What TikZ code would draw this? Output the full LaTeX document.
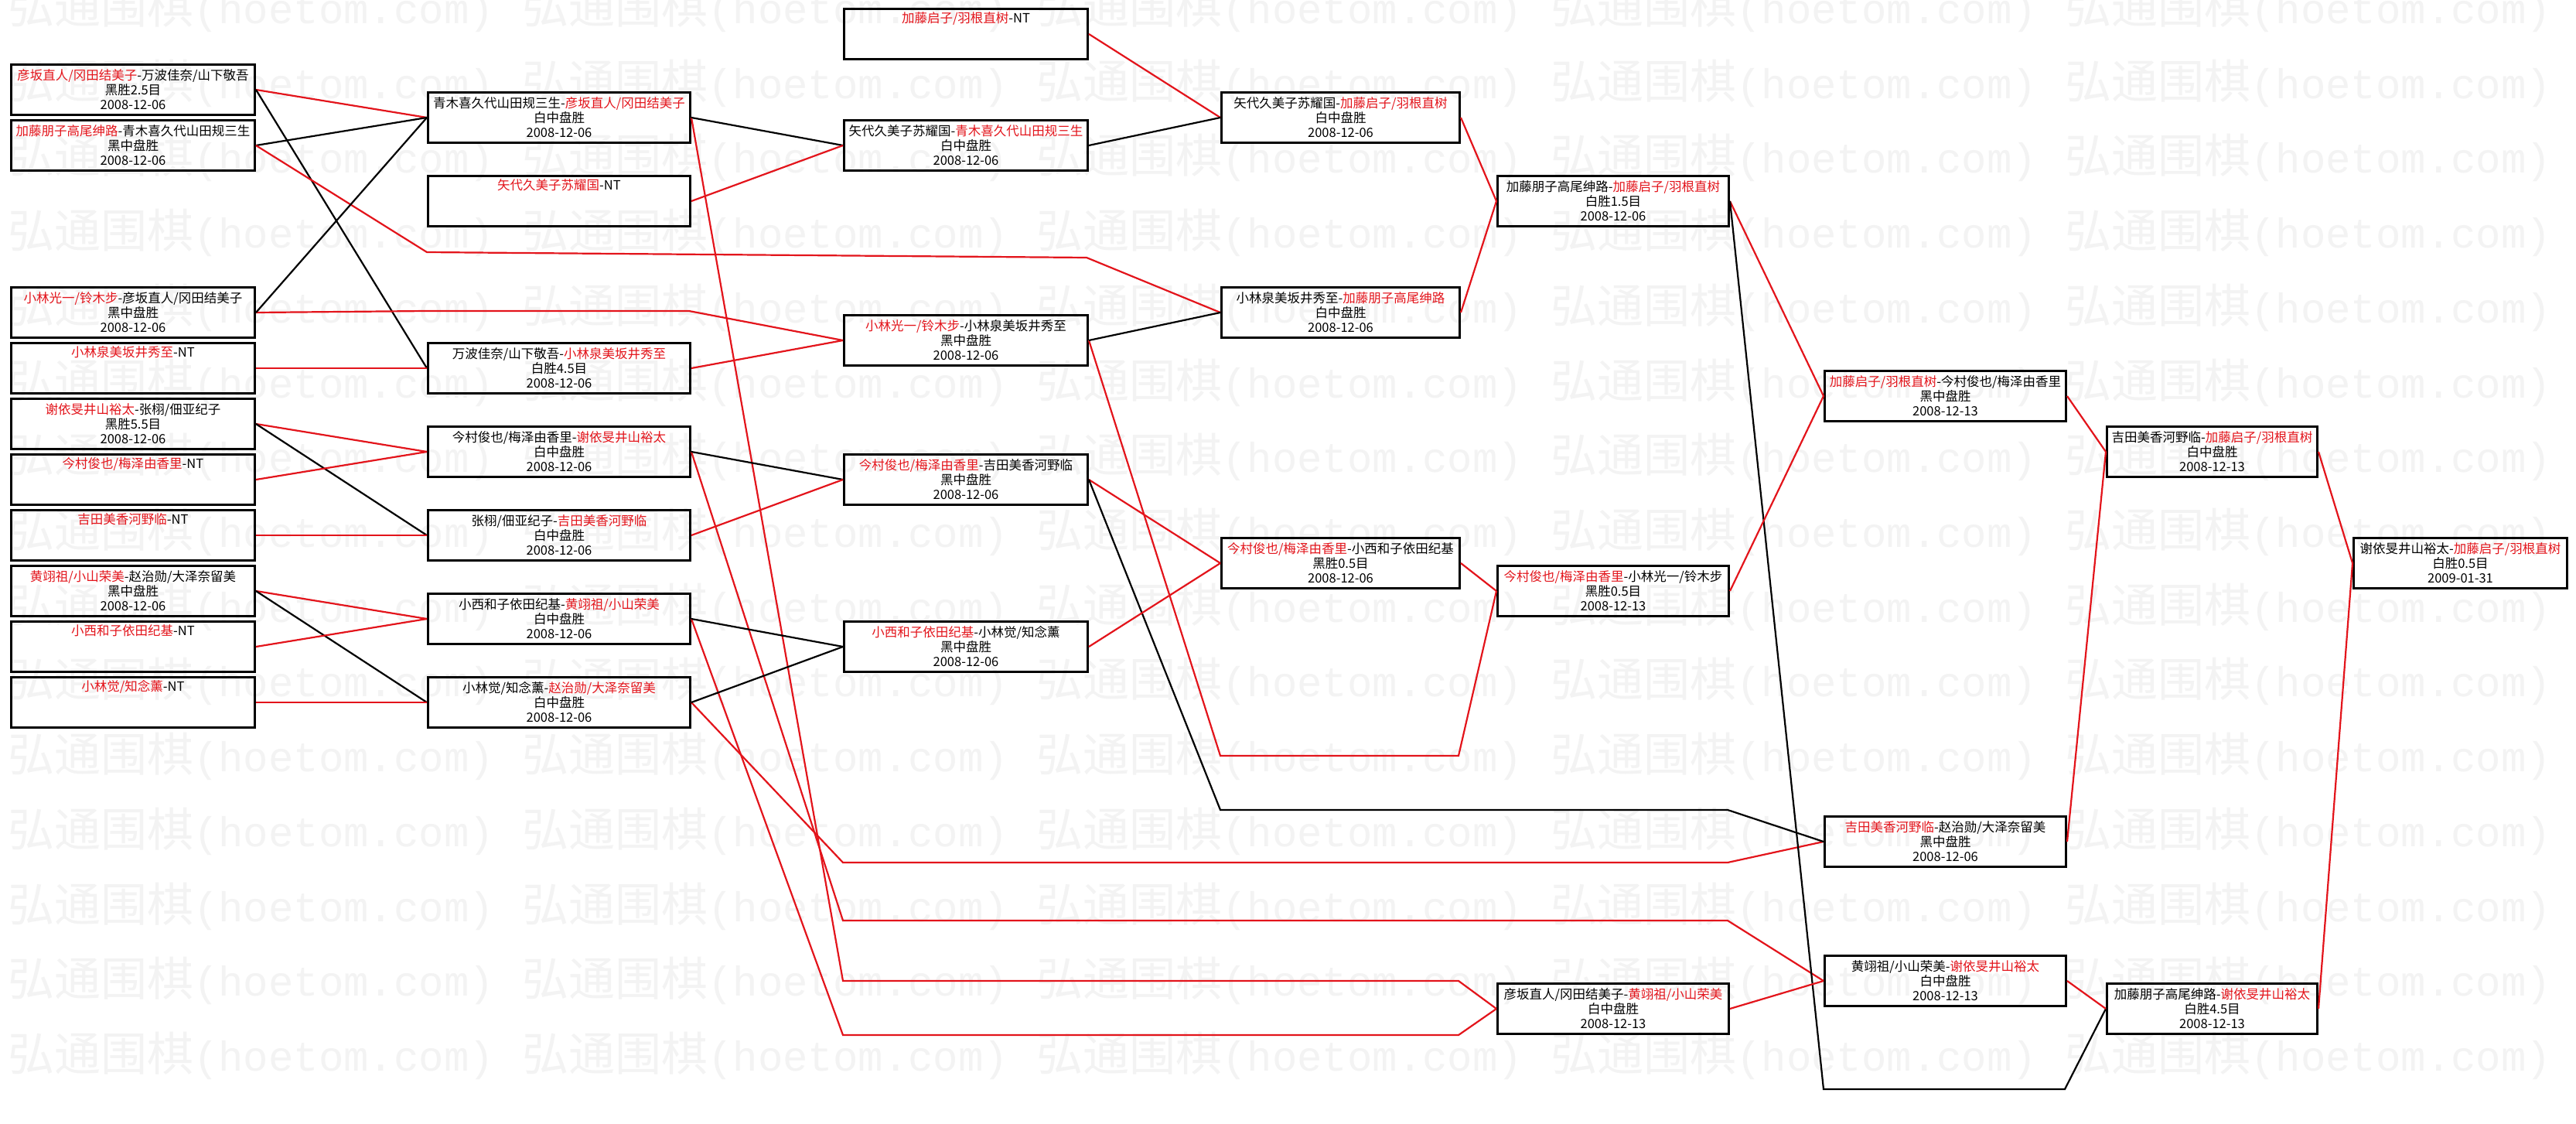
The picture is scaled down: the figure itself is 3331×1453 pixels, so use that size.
\documentclass[tikz,border=0pt]{standalone}
\usepackage{fontspec}
\setmainfont{Noto Sans CJK SC}
\newfontfamily\wmmono{Liberation Mono}
\definecolor{wred}{HTML}{E3141B}
\definecolor{wmgray}{HTML}{F3F3F3}
\newcommand{\rt}[1]{{\color{wred}#1}}
\begin{document}
\begin{tikzpicture}[x=1pt,y=-1pt,
 mbox/.style={draw=black,line width=3pt,minimum height=65pt,inner sep=0pt,align=center,anchor=north west,font=\fontsize{16.5}{19}\selectfont},
 colA/.style={mbox,minimum width=315pt},
 colB/.style={mbox,minimum width=339pt},
 colC/.style={mbox,minimum width=315pt},
 colD/.style={mbox,minimum width=308pt},
 colE/.style={mbox,minimum width=299pt},
 colF/.style={mbox,minimum width=312pt},
 colG/.style={mbox,minimum width=272pt},
 colH/.style={mbox,minimum width=276pt},
 win/.style={draw=wred,line width=2.2pt},
 lose/.style={draw=black,line width=2.2pt},
 wm/.style={text=wmgray,anchor=west,inner sep=0pt,font=\fontsize{60}{60}\selectfont}
]
\useasboundingbox (0,0) rectangle (3331,1453);
\fill[white] (0,0) rectangle (3331,1453);
\begin{scope}
\clip (0,0) rectangle (3331,1453);
\foreach \k in {0,...,14}{
 \foreach \j in {0,...,5}{
  \node[wm] (wm-\k-\j) at ({10+665*\j},{11+96.7*\k}) {弘通围棋{\wmmono\fontsize{54}{54}\selectfont(hoetom.com)}};
 }
}
\end{scope}

% column 1
\node[colA] (a0) at (13,82) {\rt{彦坂直人/冈田结美子}-万波佳奈/山下敬吾\\黑胜2.5目\\2008-12-06};
\node[colA] (a1) at (13,154) {\rt{加藤朋子高尾绅路}-青木喜久代山田规三生\\黑中盘胜\\2008-12-06};
\node[colA] (a4) at (13,370) {\rt{小林光一/铃木步}-彦坂直人/冈田结美子\\黑中盘胜\\2008-12-06};
\node[colA] (a5) at (13,442) {\rt{小林泉美坂井秀至}-NT\\\strut\\\strut};
\node[colA] (a6) at (13,514) {\rt{谢依旻井山裕太}-张栩/佃亚纪子\\黑胜5.5目\\2008-12-06};
\node[colA] (a7) at (13,586) {\rt{今村俊也/梅泽由香里}-NT\\\strut\\\strut};
\node[colA] (a8) at (13,658) {\rt{吉田美香河野临}-NT\\\strut\\\strut};
\node[colA] (a9) at (13,730) {\rt{黄翊祖/小山荣美}-赵治勋/大泽奈留美\\黑中盘胜\\2008-12-06};
\node[colA] (a10) at (13,802) {\rt{小西和子依田纪基}-NT\\\strut\\\strut};
\node[colA] (a11) at (13,874) {\rt{小林觉/知念薰}-NT\\\strut\\\strut};

% column 2
\node[colB] (b0) at (552,118) {青木喜久代山田规三生-\rt{彦坂直人/冈田结美子}\\白中盘胜\\2008-12-06};
\node[colB] (b1) at (552,226) {\rt{矢代久美子苏耀国}-NT\\\strut\\\strut};
\node[colB] (b3) at (552,442) {万波佳奈/山下敬吾-\rt{小林泉美坂井秀至}\\白胜4.5目\\2008-12-06};
\node[colB] (b4) at (552,550) {今村俊也/梅泽由香里-\rt{谢依旻井山裕太}\\白中盘胜\\2008-12-06};
\node[colB] (b5) at (552,658) {张栩/佃亚纪子-\rt{吉田美香河野临}\\白中盘胜\\2008-12-06};
\node[colB] (b6) at (552,766) {小西和子依田纪基-\rt{黄翊祖/小山荣美}\\白中盘胜\\2008-12-06};
\node[colB] (b7) at (552,874) {小林觉/知念薰-\rt{赵治勋/大泽奈留美}\\白中盘胜\\2008-12-06};

% column 3
\node[colC] (c0) at (1090,10) {\rt{加藤启子/羽根直树}-NT\\\strut\\\strut};
\node[colC] (c1) at (1090,154) {矢代久美子苏耀国-\rt{青木喜久代山田规三生}\\白中盘胜\\2008-12-06};
\node[colC] (c2) at (1090,406) {\rt{小林光一/铃木步}-小林泉美坂井秀至\\黑中盘胜\\2008-12-06};
\node[colC] (c3) at (1090,586) {\rt{今村俊也/梅泽由香里}-吉田美香河野临\\黑中盘胜\\2008-12-06};
\node[colC] (c4) at (1090,802) {\rt{小西和子依田纪基}-小林觉/知念薰\\黑中盘胜\\2008-12-06};

% column 4
\node[colD] (d0) at (1578,118) {矢代久美子苏耀国-\rt{加藤启子/羽根直树}\\白中盘胜\\2008-12-06};
\node[colD] (d1) at (1578,370) {小林泉美坂井秀至-\rt{加藤朋子高尾绅路}\\白中盘胜\\2008-12-06};
\node[colD] (d2) at (1578,694) {\rt{今村俊也/梅泽由香里}-小西和子依田纪基\\黑胜0.5目\\2008-12-06};

% column 5
\node[colE] (e0) at (1935,226) {加藤朋子高尾绅路-\rt{加藤启子/羽根直树}\\白胜1.5目\\2008-12-06};
\node[colE] (e1) at (1935,730) {\rt{今村俊也/梅泽由香里}-小林光一/铃木步\\黑胜0.5目\\2008-12-13};
\node[colE] (e2) at (1935,1270) {彦坂直人/冈田结美子-\rt{黄翊祖/小山荣美}\\白中盘胜\\2008-12-13};

% column 6
\node[colF] (f0) at (2358,478) {\rt{加藤启子/羽根直树}-今村俊也/梅泽由香里\\黑中盘胜\\2008-12-13};
\node[colF] (f1) at (2358,1054) {\rt{吉田美香河野临}-赵治勋/大泽奈留美\\黑中盘胜\\2008-12-06};
\node[colF] (f2) at (2358,1234) {黄翊祖/小山荣美-\rt{谢依旻井山裕太}\\白中盘胜\\2008-12-13};

% column 7
\node[colG] (g0) at (2723,550) {吉田美香河野临-\rt{加藤启子/羽根直树}\\白中盘胜\\2008-12-13};
\node[colG] (g1) at (2723,1270) {加藤朋子高尾绅路-\rt{谢依旻井山裕太}\\白胜4.5目\\2008-12-13};

% column 8
\node[colH] (h0) at (3042,694) {谢依旻井山裕太-\rt{加藤启子/羽根直树}\\白胜0.5目\\2009-01-31};

% connectors from column 1
\draw[win] (a0.east) -- (b0.west);
\draw[lose] (a0.east) -- (b3.west);
\draw[lose] (a1.east) -- (b0.west);
\draw[win] (a1.east) -- (552,326) -- (1405,333) -- (d1.west);
\draw[win] (a4.east) -- (552,402) -- (891,402) -- (c2.west);
\draw[lose] (a4.east) -- (b0.west);
\draw[win] (a5.east) -- (b3.west);
\draw[win] (a6.east) -- (b4.west);
\draw[lose] (a6.east) -- (b5.west);
\draw[win] (a7.east) -- (b4.west);
\draw[win] (a8.east) -- (b5.west);
\draw[win] (a9.east) -- (b6.west);
\draw[lose] (a9.east) -- (b7.west);
\draw[win] (a10.east) -- (b6.west);
\draw[win] (a11.east) -- (b7.west);

% from column 2
\draw[win] (b0.east) -- (1090,1268) -- (1886,1268) -- (e2.west);
\draw[lose] (b0.east) -- (c1.west);
\draw[win] (b1.east) -- (c1.west);
\draw[win] (b3.east) -- (c2.west);
\draw[win] (b4.east) -- (1090,1190) -- (2234,1190) -- (f2.west);
\draw[lose] (b4.east) -- (c3.west);
\draw[win] (b5.east) -- (c3.west);
\draw[win] (b6.east) -- (1090,1338) -- (1886,1338) -- (e2.west);
\draw[lose] (b6.east) -- (c4.west);
\draw[win] (b7.east) -- (1090,1115) -- (2234,1115) -- (f1.west);
\draw[lose] (b7.east) -- (c4.west);

% from column 3
\draw[win] (c0.east) -- (d0.west);
\draw[lose] (c1.east) -- (d0.west);
\draw[win] (c2.east) -- (1578,977) -- (1886,977) -- (e1.west);
\draw[lose] (c2.east) -- (d1.west);
\draw[win] (c3.east) -- (d2.west);
\draw[lose] (c3.east) -- (1578,1047) -- (2234,1047) -- (f1.west);
\draw[win] (c4.east) -- (d2.west);

% from column 4
\draw[win] (d0.east) -- (e0.west);
\draw[win] (d1.east) -- (e0.west);
\draw[win] (d2.east) -- (e1.west);

% from column 5
\draw[win] (e0.east) -- (f0.west);
\draw[lose] (e0.east) -- (2358,1408) -- (2670,1408) -- (g1.west);
\draw[win] (e1.east) -- (f0.west);
\draw[win] (e2.east) -- (f2.west);

% from column 6
\draw[win] (f0.east) -- (g0.west);
\draw[win] (f1.east) -- (g0.west);
\draw[win] (f2.east) -- (g1.west);

% from column 7
\draw[win] (g0.east) -- (h0.west);
\draw[win] (g1.east) -- (h0.west);
\end{tikzpicture}
\end{document}
